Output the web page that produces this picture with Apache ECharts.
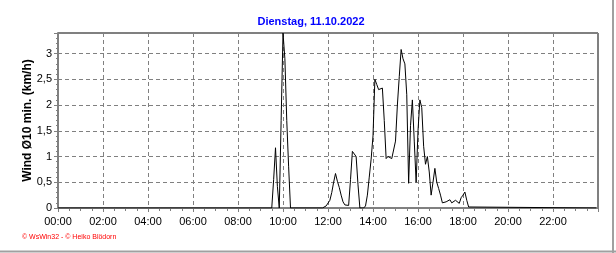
<!DOCTYPE html>
<html><head><meta charset="utf-8">
<script src="https://cdn.jsdelivr.net/npm/echarts@6/dist/echarts.min.js"></script>
<style>html,body{margin:0;padding:0;background:#fff}#c{width:616px;height:253px}</style>
</head><body><div id="c"></div>
<script>
const titleText = 'Dienstag, 11.10.2022';
const yAxisName = 'Wind Ø10 min. (km/h)';
const creditText = '© WsWin32 - © Heiko Blödorn';

const times = [
 '00:00','09:30','09:35','09:40','09:45','09:50','09:55','10:00','10:05','10:10','10:15','10:20',
 '11:45','11:50','11:55','12:00','12:05','12:10','12:15','12:20','12:25','12:30','12:35','12:40','12:45','12:50','12:55',
 '13:00','13:05','13:10','13:15','13:20','13:25','13:30','13:35','13:40','13:45','13:50','13:55',
 '14:00','14:05','14:10','14:15','14:20','14:25','14:30','14:35','14:40','14:45','14:50','14:55',
 '15:00','15:05','15:10','15:15','15:20','15:25','15:30','15:35','15:40','15:45','15:50','15:55',
 '16:00','16:05','16:10','16:15','16:20','16:25','16:30','16:35','16:40','16:45','16:50','16:55',
 '17:00','17:05','17:10','17:15','17:20','17:25','17:30','17:35','17:40','17:45','17:50','17:55',
 '18:00','18:05','18:10','18:15','18:20','23:55'
];
const windSpeed = [
 0,0,0.55,1.17,0.42,0,1.7,3.4,2.9,1.7,0.8,0,
 0,0.02,0.04,0.06,0.15,0.3,0.5,0.67,0.52,0.4,0.25,0.12,0.06,0.03,0.05,
 0.55,1.1,1.08,1.0,0.45,0,0,0,0.04,0.25,0.6,0.95,
 1.4,2.5,2.4,2.3,2.33,2.33,1.7,0.96,1.0,0.98,0.96,0.93,
 1.3,2.0,2.55,3.08,2.9,2.8,2.2,0.48,1.6,2.1,1.3,0.5,
 1.5,2.1,1.95,1.2,0.85,1.0,0.7,0.25,0.5,0.77,0.5,0.38,
 0.25,0.1,0.1,0.12,0.15,0.16,0.1,0.07,0.15,0.12,0.09,0.2,
 0.25,0.31,0.15,0.02,0,0
];
const xTickLabels = ['00:00','02:00','04:00','06:00','08:00','10:00','12:00','14:00','16:00','18:00','20:00','22:00'];

function toHours(t){ const p = t.split(':'); return (+p[0]) + (+p[1])/60; }
const seriesData = times.map((t,i)=>[toHours(t), windSpeed[i]]);

const chart = echarts.init(document.getElementById('c'), null, {renderer:'canvas'});
const fontFam = '"Liberation Sans", Arial, sans-serif';
chart.setOption({
  animation:false,
  backgroundColor:'#fff',
  title:{text:titleText, left:306, textAlign:'center', top:11, textStyle:{color:'#0000ff', fontSize:11, fontWeight:'bold', fontFamily:fontFam}},
  grid:{left:58, right:18, top:33, bottom:45, show:true, borderColor:'#000', borderWidth:1, containLabel:false},
  xAxis:{
    type:'value', min:0, max:24, interval:2,
    axisLine:{show:true, lineStyle:{color:'#808080', width:2}},
    axisTick:{show:true, length:4, lineStyle:{color:'#808080'}},
    minorTick:{show:true, splitNumber:4, length:3, lineStyle:{color:'#808080'}},
    splitLine:{show:true, lineStyle:{color:'#808080', type:[4,3], width:1}},
    axisLabel:{color:'#000', fontSize:11, fontFamily:fontFam, margin:8,
      formatter:v=> (v<24 ? xTickLabels[Math.round(v/2)] : '')}
  },
  yAxis:{
    type:'value', min:0, max:3.4, interval:0.5,
    name:yAxisName, nameLocation:'middle', nameGap:24, nameRotate:90, nameMoveOverlap:false,
    nameTextStyle:{color:'#000', fontSize:12, fontWeight:'bold', fontFamily:fontFam},
    axisLine:{show:true, lineStyle:{color:'#808080', width:2}},
    axisTick:{show:true, length:4, lineStyle:{color:'#808080'}},
    minorTick:{show:true, splitNumber:5, length:2, lineStyle:{color:'#808080'}},
    splitLine:{show:true, lineStyle:{color:'#808080', type:[4,3], width:1}},
    axisLabel:{color:'#000', fontSize:11, fontFamily:fontFam, margin:6,
      formatter:v=>{ if(Math.abs(v*2-Math.round(v*2))>1e-6) return ''; return String(v).replace('.',','); }}
  },
  graphic:[
    {type:'text', left:22, top:234, style:{text:creditText, fill:'#ff0000', font:'7px "Liberation Sans", Arial, sans-serif'}},
    {type:'line', shape:{x1:613, y1:0, x2:613, y2:253}, style:{stroke:'#a0a0a0', lineWidth:2}},
    {type:'line', shape:{x1:0, y1:251.5, x2:616, y2:251.5}, style:{stroke:'#a0a0a0', lineWidth:2}}
  ],
  series:[{
    type:'line', data:seriesData, showSymbol:false, symbol:'none',
    lineStyle:{color:'#000', width:1}, z:5
  }]
});
</script></body></html>
